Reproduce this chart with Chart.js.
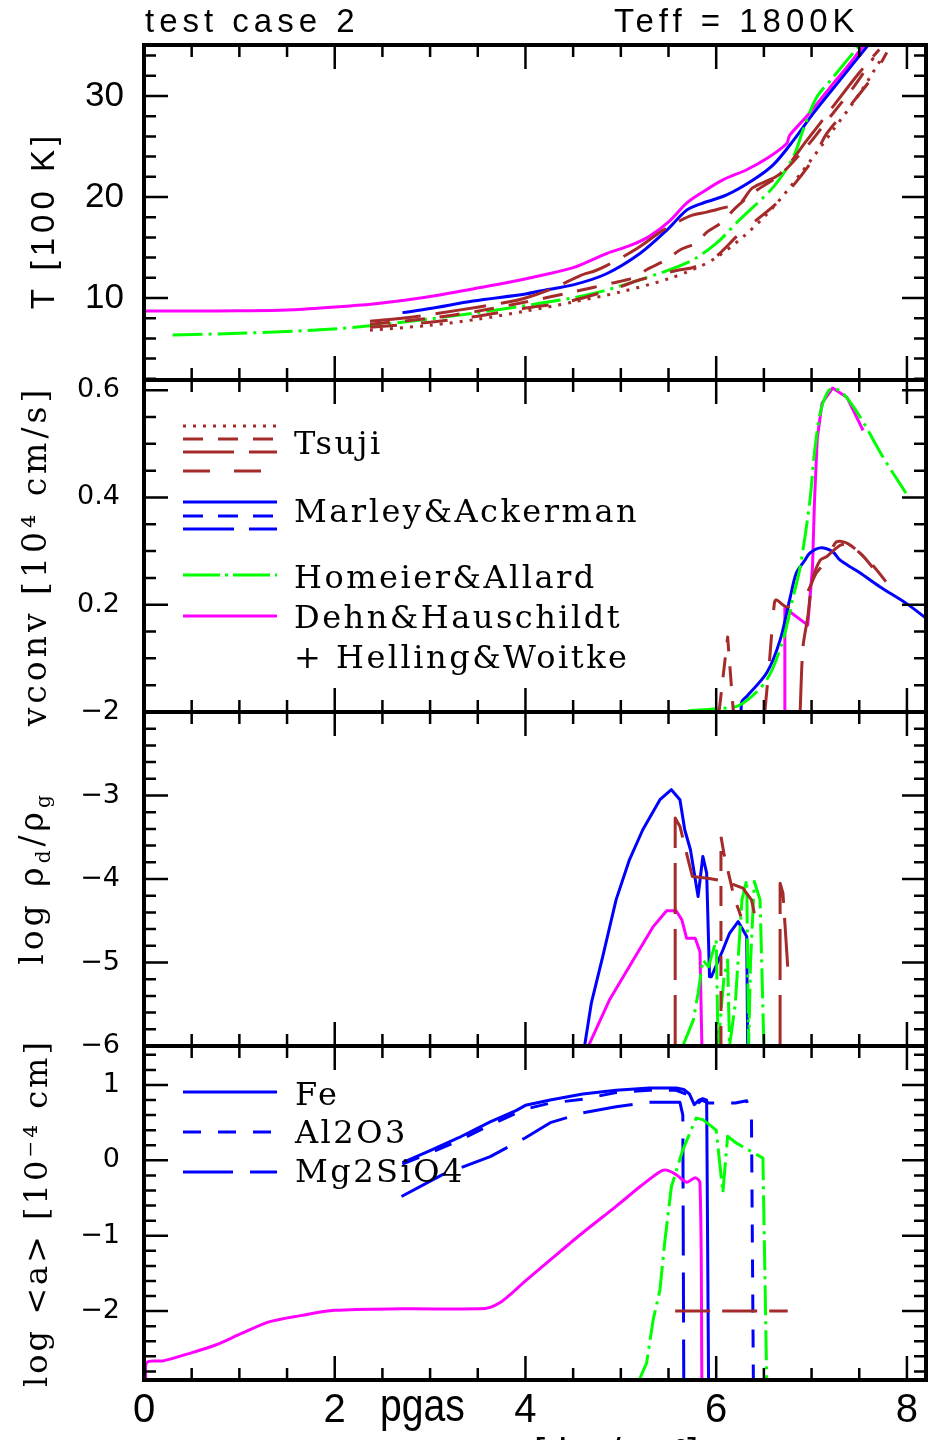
<!DOCTYPE html>
<html><head><meta charset="utf-8">
<script src="https://cdn.jsdelivr.net/npm/chart.js@4.4.1/dist/chart.umd.min.js"></script>
<style>
html,body{margin:0;padding:0;background:#fff;}
#wrap{position:relative;width:928px;height:1440px;overflow:hidden;background:#fff;}
canvas{position:absolute;left:0;}
.t{position:absolute;white-space:nowrap;line-height:1;color:#000;}
.serif{font-family:"DejaVu Serif",serif;font-size:32px;letter-spacing:2.5px;}
.sans{font-family:"Liberation Sans",Arial,sans-serif;}
.rot{transform:translate(-50%,-50%) rotate(-90deg);}
</style></head>
<body><div id="wrap">
<canvas id="c1" width="928" height="410" style="top:0px"></canvas>
<canvas id="c2" width="928" height="392" style="top:350px"></canvas>
<canvas id="c3" width="928" height="394" style="top:682px"></canvas>
<canvas id="c4" width="928" height="424" style="top:1016px"></canvas>

<div class="t sans" style="left:145px;top:4px;font-size:33px;letter-spacing:5px;">test case 2</div>
<div class="t sans" style="left:614px;top:4px;font-size:33px;letter-spacing:5px;">Teff = 1800K</div>

<div class="t sans rot" style="left:42px;top:220px;font-size:33px;letter-spacing:5px;">T [100 K]</div>
<div class="t serif rot" style="left:34px;top:556px;font-size:33px;letter-spacing:4px;">vconv [10⁴ cm/s]</div>
<div class="t serif rot" style="left:34px;top:878px;font-size:33px;letter-spacing:4px;">log ρ<sub style="font-size:20px">d</sub>/ρ<sub style="font-size:20px">g</sub></div>
<div class="t serif rot" style="left:36px;top:1213px;font-size:32px;letter-spacing:3px;">log &lt;a&gt; [10⁻⁴ cm]</div>

<div class="t serif" style="left:294px;top:427px;">Tsuji</div>
<div class="t serif" style="left:294px;top:495px;">Marley&amp;Ackerman</div>
<div class="t serif" style="left:294px;top:561px;">Homeier&amp;Allard</div>
<div class="t serif" style="left:294px;top:601px;">Dehn&amp;Hauschildt</div>
<div class="t serif" style="left:294px;top:641px;">+ Helling&amp;Woitke</div>

<div class="t serif" style="left:295px;top:1078px;">Fe</div>
<div class="t serif" style="left:295px;top:1116px;">Al2O3</div>
<div class="t serif" style="left:295px;top:1155px;">Mg2SiO4</div>

<div class="t sans" style="left:380px;top:1382px;font-size:46px;transform:scaleX(0.85);transform-origin:0 0;">pgas</div>
<div class="t sans" style="left:534px;top:1433px;font-size:40px;">[dyn/cm²]</div>
</div>
<script>
// ---------- x ticks (shared) ----------
const xTickValues = [0, 2, 4, 6, 8];

// ---------- Panel 1 : T [100 K] ----------
const tTicks = [10, 20, 30];
const tMagX = [0, 0.5, 1.0, 1.5, 2.0, 2.4, 2.75, 3.1, 3.45, 3.8, 4.15, 4.5, 4.85, 5.1, 5.30, 5.51, 5.69, 5.86, 6.07, 6.32, 6.53, 6.74, 6.77, 6.95, 7.19, 7.40, 7.54, 7.7];
const tMagY = [8.71, 8.71, 8.73, 8.8, 9.1, 9.4, 9.8, 10.3, 10.9, 11.5, 12.2, 13.0, 14.4, 15.2, 16.1, 17.6, 19.4, 20.5, 21.7, 22.7, 23.8, 25.3, 26.1, 28.0, 30.8, 33.2, 34.9, 36.5];
const tBlueX = [2.71, 3.0, 3.45, 4.0, 4.15, 4.5, 4.85, 5.2, 5.48, 5.69, 5.83, 6.11, 6.39, 6.60, 6.81, 7.02, 7.30, 7.59, 7.7];
const tBlueY = [8.55, 8.95, 9.7, 10.4, 10.7, 11.3, 12.4, 14.4, 16.7, 18.7, 19.3, 20.2, 21.7, 23.2, 25.6, 28.3, 31.6, 35.0, 36.3];
const tGreenX = [0.3, 1.0, 1.98, 2.75, 3.45, 4.15, 4.68, 5.2, 5.72, 6.0, 6.24, 6.6, 6.81, 6.91, 7.05, 7.23, 7.5];
const tGreenY = [6.34, 6.5, 6.93, 7.65, 8.49, 9.47, 10.37, 11.8, 13.6, 15.4, 17.7, 21.0, 24.0, 26.6, 29.8, 31.9, 35.0];
const tTsAX = [2.37, 2.8, 3.3, 3.76, 4.0, 4.3, 4.57, 4.73, 4.85, 5.17, 5.41, 5.59, 5.75, 5.9, 6.06, 6.25, 6.38, 6.67, 6.95, 7.22, 7.5, 7.71];
const tTsAY = [7.7, 8.1, 8.8, 9.5, 10.0, 11.0, 12.2, 12.7, 13.2, 14.9, 16.5, 17.5, 18.2, 18.5, 18.9, 19.4, 20.9, 22.3, 25.6, 28.9, 32.3, 34.6];
const tTsBX = [2.37, 3.0, 3.5, 4.0, 4.5, 4.92, 5.13, 5.27, 5.48, 5.62, 5.8, 5.9, 6.06, 6.2, 6.4, 6.67, 6.95, 7.2, 7.45, 7.65];
const tTsBY = [7.4, 8.0, 8.7, 9.6, 10.6, 11.5, 12.0, 12.8, 13.8, 14.75, 15.5, 16.5, 17.5, 18.9, 20.5, 22.2, 25.0, 28.0, 31.0, 33.8];
const tTsCX = [2.37, 3.0, 3.5, 4.0, 4.43, 4.96, 5.2, 5.62, 5.75, 5.96, 6.25, 6.67, 7.0, 7.16, 7.4, 7.64, 7.79];
const tTsCY = [7.1, 7.6, 8.2, 9.0, 9.6, 11.0, 11.8, 12.8, 13.0, 13.8, 16.4, 19.7, 23.5, 26.3, 29.0, 31.9, 34.3];
const tTsDX = [2.37, 3.0, 3.5, 4.0, 4.5, 5.0, 5.5, 5.8, 6.0, 6.3, 6.6, 6.9, 7.2, 7.5, 7.72];
const tTsDY = [6.8, 7.3, 7.9, 8.7, 9.6, 10.6, 11.9, 13.0, 14.0, 16.2, 19.0, 22.5, 26.3, 30.2, 33.5];

// ---------- Panel 2 : vconv ----------
const vTicks = [0.2, 0.4, 0.6];
const vGreenX = [5.7, 6.0, 6.25, 6.53, 6.70, 6.80, 6.88, 6.98, 7.03, 7.09, 7.16, 7.22, 7.33, 7.51, 7.75, 7.99];
const vGreenY = [0.002, 0.006, 0.013, 0.060, 0.134, 0.209, 0.270, 0.390, 0.483, 0.557, 0.594, 0.604, 0.594, 0.550, 0.475, 0.408];
const vMagX = [6.72, 6.72, 6.96, 7.01, 7.03, 7.06, 7.11, 7.22, 7.37, 7.54];
const vMagY = [0.0, 0.194, 0.162, 0.27, 0.39, 0.51, 0.576, 0.604, 0.587, 0.525];
const vBlueX = [6.26, 6.27, 6.32, 6.53, 6.67, 6.77, 6.84, 6.93, 6.98, 7.09, 7.22, 7.30, 7.43, 7.51, 7.72, 7.99, 8.2];
const vBlueY = [0.0, 0.02, 0.029, 0.073, 0.134, 0.209, 0.259, 0.283, 0.296, 0.306, 0.299, 0.283, 0.268, 0.259, 0.233, 0.203, 0.175];
const vTsSpikeX = [6.03, 6.12, 6.18];
const vTsSpikeY = [0.0, 0.14, 0.0];
const vTsDDX = [6.51, 6.56, 6.61, 6.63, 6.74, 6.84, 6.95, 7.05, 7.16, 7.26, 7.37, 7.51, 7.64, 7.78];
const vTsDDY = [0.0, 0.097, 0.203, 0.209, 0.196, 0.205, 0.222, 0.259, 0.283, 0.317, 0.315, 0.296, 0.274, 0.243];
const vTsLDX = [6.88, 6.91, 6.96, 7.01, 7.09, 7.16, 7.3, 7.37, 7.51, 7.64];
const vTsLDY = [0.0, 0.121, 0.177, 0.246, 0.283, 0.29, 0.311, 0.311, 0.296, 0.27];

// ---------- Panel 3 : log rho_d/rho_g ----------
const rTicks = [-6, -5, -4, -3, -2];
const rBlueX = [4.62, 4.69, 4.81, 4.95, 5.09, 5.23, 5.41, 5.53, 5.62, 5.67, 5.73, 5.81, 5.86, 5.90, 5.93, 5.95, 6.07, 6.14, 6.23, 6.32, 6.33];
const rBlueY = [-6, -5.49, -4.93, -4.25, -3.77, -3.41, -3.05, -2.93, -3.05, -3.41, -3.65, -4.21, -3.73, -3.93, -5.17, -5.17, -4.85, -4.65, -4.51, -4.69, -6];
const rMagX = [4.66, 4.88, 5.13, 5.34, 5.48, 5.58, 5.64, 5.69, 5.78, 5.83, 5.85];
const rMagY = [-6, -5.45, -4.97, -4.57, -4.38, -4.38, -4.49, -4.71, -4.71, -4.87, -6];
const rGreenX = [5.65, 5.76, 5.81, 5.86, 5.92, 6.0, 6.02, 6.08, 6.12, 6.14, 6.2, 6.27, 6.32, 6.34, 6.36, 6.40, 6.46, 6.50];
const rGreenY = [-6, -5.69, -5.37, -4.97, -5.05, -4.73, -6, -5.2, -4.97, -6, -5.5, -4.25, -4.01, -6, -5.0, -4.03, -4.25, -6];
const rTs1X = [5.57, 5.57, 5.62, 5.68, 5.75, 5.91, 6.1, 6.28, 6.37, 6.40];
const rTs1Y = [-6, -3.27, -3.37, -3.65, -3.97, -3.99, -4.03, -4.11, -4.25, -4.41];
const rTs2X = [6.05, 6.05, 6.08, 6.17, 6.21, 6.26];
const rTs2Y = [-6, -3.49, -3.69, -4.13, -4.29, -4.45];
const rTs3X = [6.67, 6.67, 6.70, 6.75];
const rTs3Y = [-6, -4.05, -4.17, -5.05];

// ---------- Panel 4 : log <a> ----------
const aTicks = [-2, -1, 0, 1];
const aMagX = [0.02, 0.03, 0.2, 0.48, 0.75, 1.0, 1.32, 1.64, 2.0, 2.68, 3.52, 3.63, 3.73, 3.84, 4.0, 4.26, 4.6, 4.95, 5.2, 5.41, 5.48, 5.58, 5.69, 5.78, 5.83, 5.85];
const aMagY = [-2.95, -2.68, -2.66, -2.56, -2.45, -2.31, -2.14, -2.06, -1.99, -1.97, -1.97, -1.95, -1.89, -1.78, -1.6, -1.32, -0.96, -0.61, -0.35, -0.15, -0.13, -0.19, -0.29, -0.23, -0.30, -2.95];
const aFeX = [2.71, 3.0, 3.3, 3.63, 3.9, 4.0, 4.26, 4.6, 4.95, 5.3, 5.58, 5.66, 5.72, 5.77, 5.82, 5.86, 5.9, 5.92];
const aFeY = [-0.03, 0.13, 0.3, 0.51, 0.66, 0.73, 0.80, 0.88, 0.93, 0.96, 0.96, 0.94, 0.88, 0.74, 0.80, 0.82, 0.80, -2.95];
const aAlX = [2.71, 3.0, 3.3, 3.63, 4.0, 4.26, 4.6, 4.95, 5.3, 5.58, 5.72, 5.79, 5.85, 5.92, 6.2, 6.32, 6.37, 6.39];
const aAlY = [-0.05, 0.1, 0.26, 0.47, 0.68, 0.76, 0.81, 0.9, 0.93, 0.93, 0.86, 0.74, 0.8, 0.76, 0.76, 0.79, 0.55, -2.95];
const aMgX = [2.70, 3.13, 3.63, 4.0, 4.26, 4.6, 4.95, 5.3, 5.62, 5.65, 5.66];
const aMgY = [-0.48, -0.19, 0.05, 0.3, 0.5, 0.63, 0.71, 0.77, 0.77, 0.6, -2.95];
const aGreenX = [5.18, 5.27, 5.34, 5.41, 5.46, 5.53, 5.65, 5.79, 5.86, 6.0, 6.07, 6.12, 6.21, 6.49, 6.53];
const aGreenY = [-2.95, -2.69, -2.11, -1.72, -1.09, -0.35, 0.14, 0.56, 0.54, 0.40, -0.43, 0.32, 0.23, 0.03, -2.95];
const aTsX = [5.57, 6.75];
const aTsY = [-2, -2];

// ---------- styles ----------
const BROWN = '#a52a2a', BLUE = '#0000ff', GREEN = '#00ff00', MAGENTA = '#ff00ff';
const DOT = [3, 7], DASH = [20, 15], LDASH = [51, 15], TS4 = [27, 24], DASHDOT = [30, 6, 3, 6];
const AL = [18, 17], MG = [50, 17];

function ds(xs, ys, color, dash, smooth) {
  return {
    data: xs.map((x, i) => ({x: x, y: ys[i]})),
    borderColor: color, borderWidth: 3, borderDash: dash || [],
    pointRadius: 0, fill: false, tension: smooth ? 0.3 : 0,
    borderJoinStyle: 'round', borderCapStyle: 'butt'
  };
}
const minus = s => String(s).replace('-', '\u2212');

const framePlugin = {
  id: 'frame',
  afterDraw(chart, args, o) {
    const ctx = chart.ctx, a = chart.chartArea;
    const xs = chart.scales.x, ys = chart.scales.y;
    ctx.save();
    ctx.strokeStyle = '#000';
    ctx.lineWidth = 2.5;
    ctx.setLineDash([]);
    ctx.beginPath();
    const nx = Math.floor(xs.max / 0.5 + 1e-6);
    for (let i = 0; i <= nx; i++) {
      const px = xs.getPixelForValue(i * 0.5);
      const L = (i % 4 === 0) ? 24 : 12;
      ctx.moveTo(px, a.top); ctx.lineTo(px, a.top + L);
      ctx.moveTo(px, a.bottom); ctx.lineTo(px, a.bottom - L);
    }
    const m = o.minor, ratio = Math.round(o.major / o.minor);
    const i0 = Math.ceil(ys.min / m - 1e-6), i1 = Math.floor(ys.max / m + 1e-6);
    for (let i = i0; i <= i1; i++) {
      const py = ys.getPixelForValue(i * m);
      const L = ((((i % ratio) + ratio) % ratio) === 0) ? 24 : 12;
      ctx.moveTo(a.left, py); ctx.lineTo(a.left + L, py);
      ctx.moveTo(a.right, py); ctx.lineTo(a.right - L, py);
    }
    ctx.stroke();
    ctx.lineWidth = 4;
    ctx.strokeRect(a.left, a.top, a.right - a.left, a.bottom - a.top);
    (o.legend || []).forEach(e => {
      ctx.beginPath();
      ctx.strokeStyle = e.color; ctx.lineWidth = 3; ctx.setLineDash(e.dash || []);
      ctx.moveTo(183, e.y - o.top); ctx.lineTo(277, e.y - o.top); ctx.stroke();
    });
    ctx.restore();
  }
};

function makePanel(cfg) {
  const canvas = document.getElementById(cfg.id);
  const xScale = {
    type: 'linear', min: 0, max: 8.2, display: !!cfg.showX,
    grid: {display: false, drawTicks: false}, border: {display: false},
    ticks: {font: {family: 'Liberation Sans', size: 40}, color: '#000', padding: 7, autoSkip: false, maxRotation: 0, callback: v => String(v)},
    afterBuildTicks: s => { s.ticks = xTickValues.map(v => ({value: v})); },
    afterFit: s => { s.height = cfg.showX ? 60 : 0; s.paddingLeft = 0; s.paddingRight = 0; }
  };
  const yScale = {
    type: 'linear', min: cfg.yMin, max: cfg.yMax,
    grid: {display: false, drawTicks: false}, border: {display: false},
    ticks: {font: cfg.tickFont, color: '#000', padding: cfg.tickPad, autoSkip: false, callback: cfg.fmt},
    afterBuildTicks: s => { s.ticks = cfg.yTicks.map(v => ({value: v})); },
    afterFit: s => { s.width = 144; s.paddingTop = 0; s.paddingBottom = 0; }
  };
  return new Chart(canvas, {
    type: 'line',
    data: {datasets: cfg.datasets},
    options: {
      responsive: false, animation: false, devicePixelRatio: 1,
      layout: {padding: cfg.pad},
      plugins: {legend: {display: false}, tooltip: {enabled: false},
        frame: {minor: cfg.minor, major: cfg.major, legend: cfg.legend || [], top: cfg.top}},
      scales: {x: xScale, y: yScale}
    },
    plugins: [framePlugin]
  });
}

const bigFont = {family: 'Liberation Sans', size: 35};
const smallFont = {family: 'DejaVu Sans', size: 27};

makePanel({
  id: 'c1', top: 0, pad: {top: 45, bottom: 30, left: 0, right: 2},
  yMin: 1.88, yMax: 35.05, yTicks: tTicks, fmt: v => minus(v), tickFont: bigFont, tickPad: 20,
  minor: 2, major: 10,
  datasets: [
    ds(tTsDX, tTsDY, BROWN, DOT, true),
    ds(tTsCX, tTsCY, BROWN, TS4, true),
    ds(tTsBX, tTsBY, BROWN, DASH, true),
    ds(tTsAX, tTsAY, BROWN, LDASH, true),
    ds(tGreenX, tGreenY, GREEN, DASHDOT, true),
    ds(tBlueX, tBlueY, BLUE, null, true),
    ds(tMagX, tMagY, MAGENTA, null, true)
  ]
});

makePanel({
  id: 'c2', top: 350, pad: {top: 30, bottom: 30, left: 0, right: 2},
  yMin: 0, yMax: 0.619, yTicks: vTicks, fmt: v => Number(v).toFixed(1), tickFont: smallFont, tickPad: 24,
  minor: 0.05, major: 0.2,
  legend: [
    {y: 426, color: BROWN, dash: DOT},
    {y: 439, color: BROWN, dash: DASH},
    {y: 452, color: BROWN, dash: LDASH},
    {y: 471, color: BROWN, dash: TS4},
    {y: 502, color: BLUE},
    {y: 516, color: BLUE, dash: DASH},
    {y: 529, color: BLUE, dash: LDASH},
    {y: 575, color: GREEN, dash: [37, 5, 3, 5]},
    {y: 616, color: MAGENTA}
  ],
  datasets: [
    ds(vTsSpikeX, vTsSpikeY, BROWN, DASH),
    ds(vTsDDX, vTsDDY, BROWN, TS4, true),
    ds(vTsLDX, vTsLDY, BROWN, LDASH, true),
    ds(vGreenX, vGreenY, GREEN, DASHDOT, true),
    ds(vBlueX, vBlueY, BLUE, null, true),
    ds(vMagX, vMagY, MAGENTA)
  ]
});

makePanel({
  id: 'c3', top: 682, pad: {top: 30, bottom: 30, left: 0, right: 2},
  yMin: -6, yMax: -2, yTicks: rTicks, fmt: v => minus(v), tickFont: smallFont, tickPad: 24,
  minor: 0.2, major: 1,
  datasets: [
    ds(rTs1X, rTs1Y, BROWN, LDASH),
    ds(rTs2X, rTs2Y, BROWN, DASH),
    ds(rTs3X, rTs3Y, BROWN, LDASH),
    ds(rGreenX, rGreenY, GREEN, DASHDOT),
    ds(rMagX, rMagY, MAGENTA),
    ds(rBlueX, rBlueY, BLUE)
  ]
});

makePanel({
  id: 'c4', top: 1016, pad: {top: 30, bottom: 0, left: 0, right: 2}, showX: true,
  yMin: -2.914, yMax: 1.517, yTicks: aTicks, fmt: v => minus(v), tickFont: smallFont, tickPad: 24,
  minor: 0.2, major: 1,
  legend: [
    {y: 1092, color: BLUE},
    {y: 1132, color: BLUE, dash: AL},
    {y: 1172, color: BLUE, dash: MG}
  ],
  datasets: [
    ds(aTsX, aTsY, BROWN, [35, 12]),
    ds(aGreenX, aGreenY, GREEN, DASHDOT),
    ds(aMagX, aMagY, MAGENTA, null, true),
    ds(aMgX, aMgY, BLUE, MG),
    ds(aAlX, aAlY, BLUE, AL),
    ds(aFeX, aFeY, BLUE)
  ]
});
</script>
</body></html>
